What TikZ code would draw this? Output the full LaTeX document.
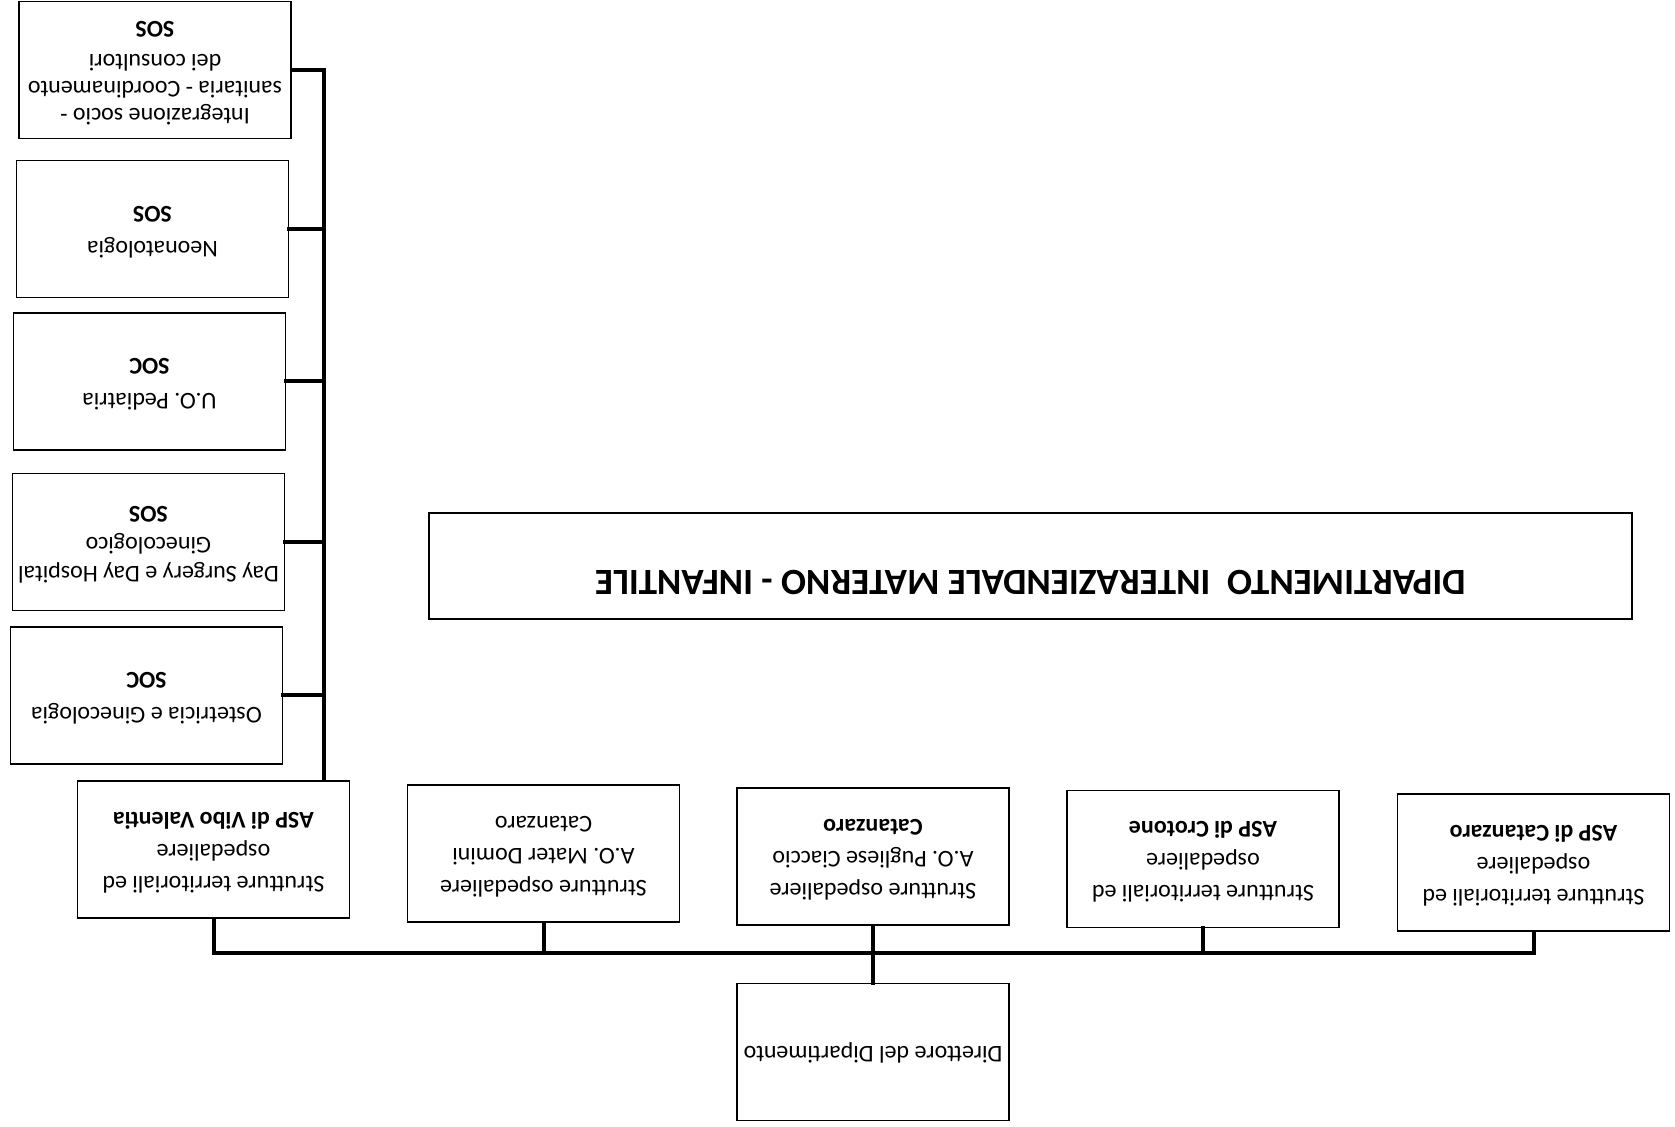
\documentclass[tikz,border=0pt]{standalone}
\usepackage{fontspec}
\usepackage{graphicx}
\setmainfont{Carlito}
\newcommand\flipit[1]{\rotatebox[origin=c]{180}{\begin{tabular}{@{}c@{}}#1\end{tabular}}}
\begin{document}
\begin{tikzpicture}[x=0.5pt,y=-0.5pt,
  box/.style={draw, line width=0.8pt, minimum width=136pt, minimum height=68.5pt, inner sep=0pt,
    font=\fontsize{12}{13.5}\selectfont},
  titlebox/.style={draw, line width=0.8pt, minimum width=601.5pt, minimum height=53pt, inner sep=0pt,
    font=\fontsize{18.5}{22}\selectfont\bfseries},
  link/.style={line width=2pt, line cap=rect}]
\useasboundingbox (0,0) rectangle (1675,1127);
\fill[white] (0,0) rectangle (1675,1127);
% left column
\node[box] (l1) at (155,70) {\flipit{Integrazione socio -\\sanitaria - Coordinamento\\dei consultori\\[3pt]\textbf{SOS}}};
\node[box] (l2) at (152.5,229) {\flipit{Neonatologia\\[4pt]\textbf{SOS}}};
\node[box] (l3) at (149.5,381.5) {\flipit{U.O. Pediatria\\[4pt]\textbf{SOC}}};
\node[box] (l4) at (148.5,542) {\flipit{Day Surgery e Day Hospital\\[1pt]Ginecologico\\[2pt]\textbf{SOS}}};
\node[box] (l5) at (146.5,695.5) {\flipit{Ostetricia e Ginecologia\\[4pt]\textbf{SOC}}};
% title
\node[titlebox] (t) at (1030.5,566) {\raisebox{-14.5pt}[0pt][0pt]{\rotatebox[origin=c]{180}{DIPARTIMENTO\ \ INTERAZIENDALE MATERNO - INFANTILE}}};
% bottom row
\node[box] (b1) at (213.5,849.5) {\flipit{Strutture territoriali ed\\[2.5pt]ospedaliere\\[2.5pt]\textbf{ASP di Vibo Valentia}}};
\node[box] (b2) at (543.5,853.5) {\flipit{Strutture ospedaliere\\[2.5pt]A.O. Mater Domini\\[2.5pt]Catanzaro}};
\node[box] (b3) at (873,856.5) {\flipit{Strutture ospedaliere\\[2.5pt]A.O. Pugliese Ciaccio\\[2.5pt]\textbf{Catanzaro}}};
\node[box] (b4) at (1203,859) {\flipit{Strutture territoriali ed\\[2.5pt]ospedaliere\\[2.5pt]\textbf{ASP di Crotone}}};
\node[box] (b5) at (1533.5,862.5) {\flipit{Strutture territoriali ed\\[2.5pt]ospedaliere\\[2.5pt]\textbf{ASP di Catanzaro}}};
\node[box] (d) at (873,1052) {\flipit{Direttore del Dipartimento}};
% connectors
\coordinate (sp) at (324,0);
\coordinate (bus) at (0,953);
\draw[link] (l1.east) -- (l1.east -| sp) -- (sp |- b1.north);
\draw[link] (l2.east) -- (l2.east -| sp);
\draw[link] (l3.east) -- (l3.east -| sp);
\draw[link] (l4.east) -- (l4.east -| sp);
\draw[link] (l5.east) -- (l5.east -| sp);
\draw[link] (b1.south) -- (b1.south |- bus) -- (b5.south |- bus) -- (b5.south);
\draw[link] (b2.south) -- (b2.south |- bus);
\draw[link] (b3.south) -- (d.north);
\draw[link] (b4.south) -- (b4.south |- bus);
\end{tikzpicture}
\end{document}
